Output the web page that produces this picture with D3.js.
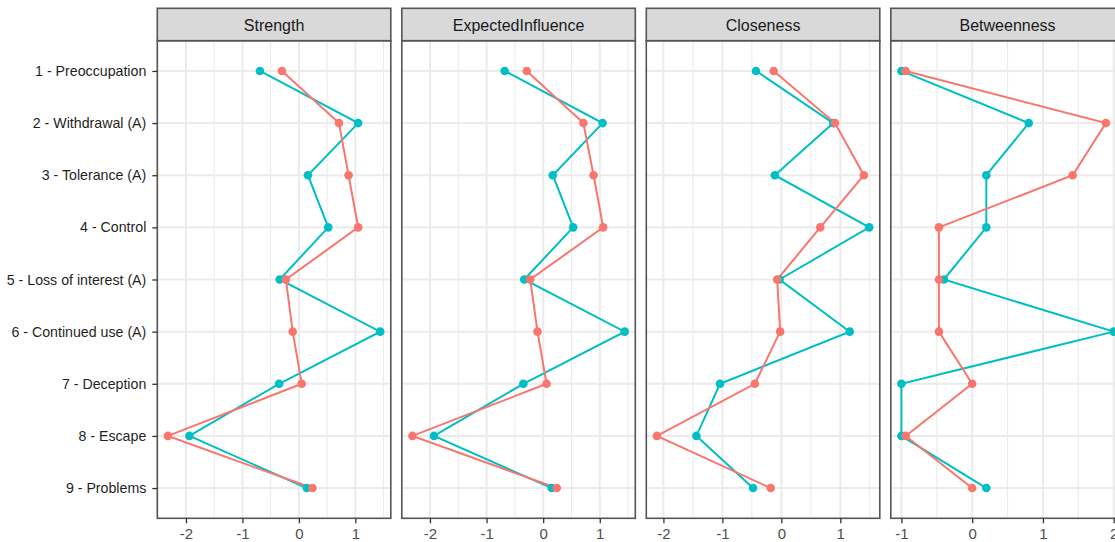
<!DOCTYPE html>
<html>
<head>
<meta charset="utf-8">
<script src="https://cdn.jsdelivr.net/npm/d3@7"></script>
<style>
  html, body { margin: 0; padding: 0; background: #fff; }
  svg { display: block; font-family: "Liberation Sans", Arial, Helvetica, sans-serif; }
</style>
</head>
<body>
<svg id="chart" width="1115" height="542"></svg>
<script>
// ---- data ----
const categories = [
  "1 - Preoccupation", "2 - Withdrawal (A)", "3 - Tolerance (A)", "4 - Control",
  "5 - Loss of interest (A)", "6 - Continued use (A)", "7 - Deception", "8 - Escape", "9 - Problems"
];
const measures = ["Strength", "ExpectedInfluence", "Closeness", "Betweenness"];

const redStrength        = [-0.30, 0.71, 0.88, 1.05, -0.23, -0.11, 0.05, -2.32, 0.24];
const tealStrength       = [-0.69, 1.05, 0.16, 0.52, -0.34, 1.44, -0.35, -1.94, 0.14];
const redExpected        = [-0.29, 0.71, 0.89, 1.06, -0.23, -0.10, 0.06, -2.31, 0.24];
const tealExpected       = [-0.68, 1.05, 0.17, 0.53, -0.335, 1.44, -0.35, -1.93, 0.15];
const redCloseness       = [-0.13, 0.91, 1.40, 0.66, -0.07, -0.02, -0.45, -2.11, -0.18];
const tealCloseness      = [-0.43, 0.88, -0.11, 1.49, -0.03, 1.16, -1.04, -1.44, -0.48];
const redBetweenness     = [-0.94, 1.89, 1.42, -0.47, -0.47, -0.47, 0.00, -0.94, 0.00];
const tealBetweenness    = [-1.00, 0.80, 0.20, 0.20, -0.40, 2.00, -1.00, -1.00, 0.20];

const seriesNames = ["teal", "red"];
const colors = { red: "#F8766D", teal: "#00BFC4" };

const panelData = {
  Strength:          { red: redStrength,    teal: tealStrength },
  ExpectedInfluence: { red: redExpected,    teal: tealExpected },
  Closeness:         { red: redCloseness,   teal: tealCloseness },
  Betweenness:       { red: redBetweenness, teal: tealBetweenness }
};

// ---- layout ----
const svg = d3.select("#chart");
const stripTop = 8.3, stripBottom = 40.7, panelBottom = 518.3;

const facetX = d3.scaleBand().domain(measures).range([157.3, 1124.3]).paddingInner(0.045).paddingOuter(0);
const y = d3.scalePoint().domain(categories).range([stripBottom, panelBottom]).padding(0.58);

const defs = svg.append("defs");

measures.forEach((m, i) => {
  const x0 = facetX(m), w = facetX.bandwidth();
  const d = panelData[m];
  const all = d.red.concat(d.teal);
  const [mn, mx] = d3.extent(all);
  const ex = (mx - mn) * 0.05;
  const x = d3.scaleLinear().domain([mn - ex, mx + ex]).range([x0, x0 + w]);

  const g = svg.append("g");

  g.append("rect").attr("x", x0).attr("y", stripBottom).attr("width", w).attr("height", panelBottom - stripBottom)
    .attr("fill", "#fff");

  // grid
  const majors = d3.range(Math.ceil(x.domain()[0]), Math.floor(x.domain()[1]) + 1);
  const minors = d3.range(Math.ceil(x.domain()[0] - 0.5), Math.floor(x.domain()[1] - 0.5) + 1).map(v => v + 0.5)
    .filter(v => v >= x.domain()[0] && v <= x.domain()[1]);
  g.selectAll(".minor").data(minors).enter().append("line")
    .attr("x1", v => x(v)).attr("x2", v => x(v)).attr("y1", stripBottom).attr("y2", panelBottom)
    .attr("stroke", "#EBEBEB").attr("stroke-width", 1.1);
  g.selectAll(".majx").data(majors).enter().append("line")
    .attr("x1", v => x(v)).attr("x2", v => x(v)).attr("y1", stripBottom).attr("y2", panelBottom)
    .attr("stroke", "#EBEBEB").attr("stroke-width", 2);
  g.selectAll(".majy").data(categories).enter().append("line")
    .attr("x1", x0).attr("x2", x0 + w).attr("y1", c => y(c)).attr("y2", c => y(c))
    .attr("stroke", "#EBEBEB").attr("stroke-width", 2);

  // clip
  const cid = "clip" + i;
  defs.append("clipPath").attr("id", cid).append("rect")
    .attr("x", x0).attr("y", stripBottom).attr("width", w).attr("height", panelBottom - stripBottom);
  const plot = g.append("g").attr("clip-path", `url(#${cid})`);

  const line = d3.line().x(p => x(p.v)).y(p => y(p.c));
  seriesNames.forEach(s => {
    const pts = categories.map((c, k) => ({ c, v: d[s][k] }));
    plot.append("path").datum(pts).attr("d", line).attr("fill", "none")
      .attr("stroke", colors[s]).attr("stroke-width", 2);
  });
  seriesNames.forEach(s => {
    const pts = categories.map((c, k) => ({ c, v: d[s][k] }));
    plot.selectAll(".pt-" + s).data(pts).enter().append("circle")
      .attr("cx", p => x(p.v)).attr("cy", p => y(p.c)).attr("r", 4.3).attr("fill", colors[s]);
  });

  // panel border
  g.append("rect").attr("x", x0).attr("y", stripBottom).attr("width", w).attr("height", panelBottom - stripBottom)
    .attr("fill", "none").attr("stroke", "#555").attr("stroke-width", 1.6);

  // strip
  g.append("rect").attr("x", x0).attr("y", stripTop).attr("width", w).attr("height", stripBottom - stripTop)
    .attr("fill", "#D9D9D9").attr("stroke", "#555").attr("stroke-width", 1.6);
  g.append("text").attr("x", x0 + w / 2).attr("y", 31.2).attr("text-anchor", "middle")
    .attr("font-size", 16).attr("fill", "#1A1A1A").text(m);

  // x axis
  const xa = g.append("g").attr("transform", `translate(0,${panelBottom})`)
    .call(d3.axisBottom(x).tickValues(majors).tickFormat(d3.format("d")).tickSize(5).tickPadding(5));
  xa.select(".domain").remove();
  xa.selectAll(".tick line").attr("stroke", "#333").attr("stroke-width", 1.3);
  xa.selectAll(".tick text").attr("font-size", 15).attr("fill", "#4D4D4D")
    .attr("font-family", "Liberation Sans, Arial, sans-serif").text(v => String(v));

  // y axis for first panel
  if (i === 0) {
    const ya = g.append("g").attr("transform", `translate(${x0},0)`)
      .call(d3.axisLeft(y).tickSize(5).tickPadding(6));
    ya.select(".domain").remove();
    ya.selectAll(".tick line").attr("stroke", "#333").attr("stroke-width", 1.3);
    ya.selectAll(".tick text").attr("font-size", 14.2).attr("fill", "#1F1F1F")
      .attr("font-family", "Liberation Sans, Arial, sans-serif");
  }
});
</script>
</body>
</html>
